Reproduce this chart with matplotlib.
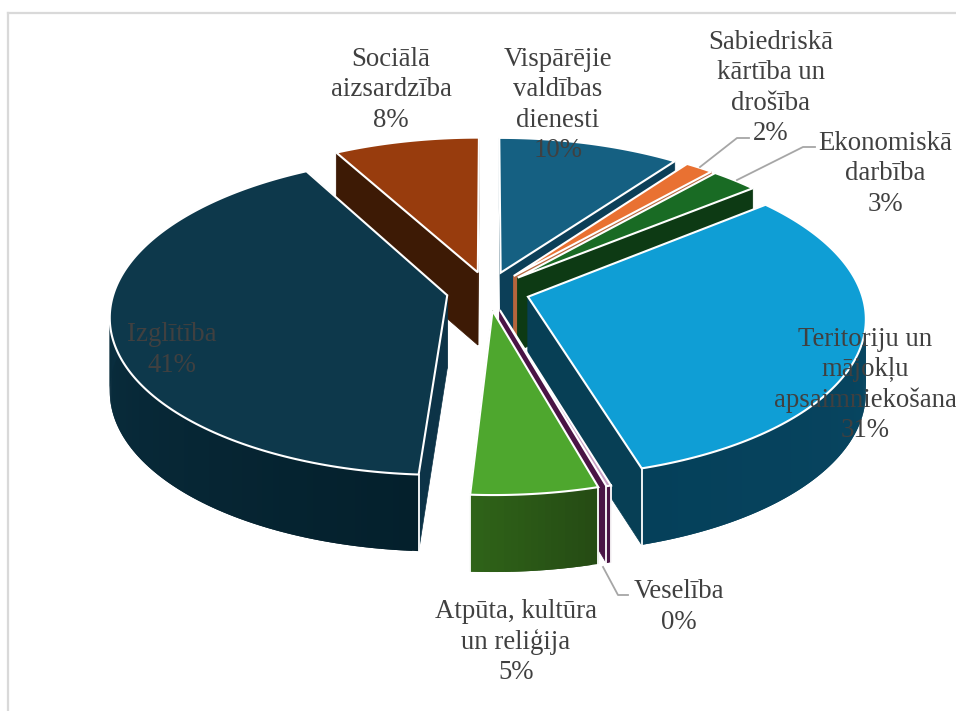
import numpy as np
import matplotlib
matplotlib.use('Agg')
import matplotlib.pyplot as plt
from matplotlib.colors import to_rgb

categories = ['Vispārējie\nvaldības\ndienesti', 'Sabiedriskā\nkārtība un\ndrošība', 'Ekonomiskā\ndarbība',
              'Teritoriju un\nmājokļu\napsaimniekošana', 'Veselība', 'Atpūta, kultūra\nun reliģija',
              'Izglītība', 'Sociālā\naizsardzība']
values = [10, 1.55, 2.6, 31.3, 0.2, 5.35, 41.1, 8]
top_colors = ['#156082', '#E97132', '#196B24', '#0F9ED5', '#C9A0C5', '#4EA72E', '#0D384B', '#983C0D']
side_colors = ['#0C3F58', '#B5653D', '#0D3A14', '#073F55', '#4A1445', '#2A5518', '#0C3347', '#3D1A05']
wall_from = ['#0C3F58', '#8A3F18', '#0D3A14', '#0A4A66', '#4A1445', '#254B14', '#04202C', '#3D1A05']
wall_to = ['#0C3F58', '#8A3F18', '#0D3A14', '#05405A', '#4A1445', '#2F6318', '#0D374B', '#3D1A05']
label_pos = [(558, 105), (771, 88), (885, 174), (865, 385), (679, 607), (516, 642), (172, 350), (391, 90)]
draw_order = [7, 0, 1, 2, 6, 3, 4, 5]

# pie geometry, in pixels of the picture
cx, cy = 488, 291
rx, ry = 333, 156
persp = 0.125
depth = 73
explode = 0.125

fig, ax = plt.subplots(figsize=(9.56, 7.11), dpi=100)
ax.set_position([0, 0, 1, 1])
ax.set_xlim(0, 956)
ax.set_ylim(711, 0)
ax.axis('off')


def project(u, v, z=0):
    w = 1 + persp * v
    return cx + rx * u / w, cy - ry * v / w + depth * z / w ** 0.35


def mix(c1, c2, f):
    c1, c2 = np.array(to_rgb(c1)), np.array(to_rgb(c2))
    return tuple(c1 + (c2 - c1) * f)


edges = np.cumsum([0] + values) / sum(values) * 2 * np.pi
ax.plot([8, 8], [711, 13], color='#d9d9d9', lw=1.6)
ax.plot([8, 956], [13, 13], color='#d9d9d9', lw=1.6)

for i in draw_order:
    t0, t1 = edges[i], edges[i + 1]
    mid = (t0 + t1) / 2
    du, dv = explode * np.sin(mid), explode * np.cos(mid)
    ts = np.linspace(t0, t1, max(int((t1 - t0) * 60), 3))
    u = du + np.sin(ts)
    v = dv + np.cos(ts)
    # radial walls first, the top face hides whatever should not show
    for t in (t0, t1):
        p = [project(du, dv), project(du + np.sin(t), dv + np.cos(t)),
             project(du + np.sin(t), dv + np.cos(t), 1), project(du, dv, 1)]
        ax.fill(*zip(*p), color=side_colors[i], lw=0.5)
    # outer wall, each piece overlaps the next one so no seams show
    for j in range(len(ts) - 1):
        if np.cos(ts[j]) > 0.3:
            continue
        k = min(j + 2, len(ts) - 1)
        p = [project(u[j], v[j]), project(u[k], v[k]),
             project(u[k], v[k], 1), project(u[j], v[j], 1)]
        c = mix(wall_from[i], wall_to[i], j / max(len(ts) - 2, 1))
        ax.fill(*zip(*p), color=c, lw=0)
    for t in (t0, t1):
        if np.cos(t) < 0.3:
            p0 = project(du + np.sin(t), dv + np.cos(t))
            p1 = project(du + np.sin(t), dv + np.cos(t), 1)
            ax.plot([p0[0], p1[0]], [p0[1], p1[1]], color='white', lw=1.3)
    x, y = project(np.r_[du, u, du], np.r_[dv, v, dv])
    ax.fill(x, y, facecolor=top_colors[i], edgecolor='white', lw=1.5, joinstyle='miter')

# leader lines
for pts in ([(700, 167), (737, 138), (749, 138)], [(737, 180), (803, 147), (815, 147)], [(603, 567), (618, 595), (628, 595)]):
    ax.plot(*zip(*pts), color='#a6a6a6', lw=1.3, zorder=5)

for name, val, (x, y) in zip(categories, values, label_pos):
    ax.text(x, y, f'{name}\n{round(val)}%', ha='center', va='center', family='Liberation Serif',
            fontsize=19.3, color='#404040', linespacing=1.27, zorder=6)

fig.savefig('out.png', dpi=100)
